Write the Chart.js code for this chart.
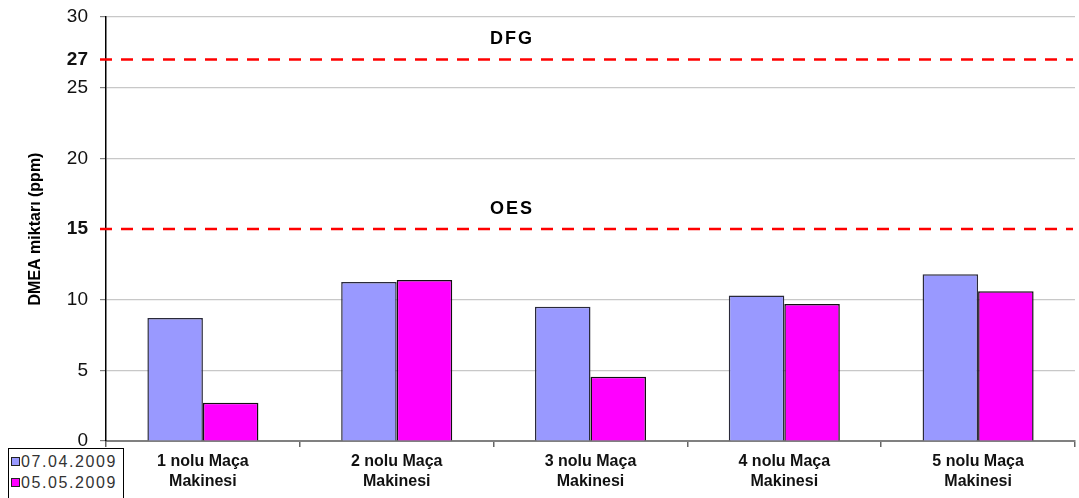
<!DOCTYPE html>
<html>
<head>
<meta charset="utf-8">
<script src="https://cdn.jsdelivr.net/npm/chart.js@4/dist/chart.umd.min.js"></script>
<style>
  html, body { margin: 0; padding: 0; background: #fff; }
  #wrap { position: relative; width: 1079px; height: 498px; overflow: hidden; }
  #legend {
    position: absolute; left: 8px; top: 448px; width: 116px; height: 60px;
    border: 1px solid #000; background: #fff; box-sizing: border-box;
    font-family: 'Liberation Sans', Arial, sans-serif; font-size: 16px; color: #333;
    letter-spacing: 1.6px;
  }
  #legend .row { position: absolute; left: 2px; height: 20px; line-height: 20px; white-space: nowrap; }
  #legend .sw { display: inline-block; width: 7px; height: 7px; border: 1px solid #222; margin-right: 1px; vertical-align: 1px; }
</style>
</head>
<body>
<div id="wrap">
  <canvas id="c" width="1079" height="498"></canvas>
  <div id="legend"></div>
</div>
<script>
// Machines measured
const categories = [
  ['1 nolu Maça', 'Makinesi'],
  ['2 nolu Maça', 'Makinesi'],
  ['3 nolu Maça', 'Makinesi'],
  ['4 nolu Maça', 'Makinesi'],
  ['5 nolu Maça', 'Makinesi']
];
// DMEA (ppm) per measurement date
const seriesNames = ['07.04.2009', '05.05.2009'];
const april = [8.7, 11.25, 9.5, 10.3, 11.8];
const may = [2.7, 11.4, 4.55, 9.7, 10.6];
const seriesColors = ['#9999ff', '#ff00ff'];
// Limit values and y-axis tick labels
const limitValues = [27, 15];
const limitNames = ['DFG', 'OES'];
const yTicks = [0, 5, 10, 15, 20, 25, 27, 30];

const FONT = "'Liberation Sans', Arial, sans-serif";
const isLimit = v => limitValues.includes(v);

// Dashed red limit lines with their names
const limitLines = {
  id: 'limitLines',
  afterDraw(chart) {
    const ctx = chart.ctx;
    const y = chart.scales.y;
    const area = chart.chartArea;
    ctx.save();
    limitValues.forEach((v, i) => {
      const py = y.getPixelForValue(v);
      ctx.beginPath();
      ctx.strokeStyle = '#ff0000';
      ctx.lineWidth = 2.5;
      ctx.setLineDash([12, 9]);
      ctx.moveTo(area.left - 6, py);
      ctx.lineTo(area.right - 2, py);
      ctx.stroke();
      ctx.setLineDash([]);
      ctx.fillStyle = '#000';
      ctx.font = 'bold 18px ' + FONT;
      if ('letterSpacing' in ctx) ctx.letterSpacing = '2px';
      ctx.textAlign = 'center';
      ctx.textBaseline = 'middle';
      ctx.fillText(limitNames[i], area.left + (area.right - area.left) * 0.419, py - 20);
    });
    ctx.restore();
  }
};

const chart = new Chart(document.getElementById('c'), {
  type: 'bar',
  data: {
    labels: categories,
    datasets: [
      { label: seriesNames[0], data: april, backgroundColor: seriesColors[0], borderColor: '#2a2a3a', borderWidth: 1.5 },
      { label: seriesNames[1], data: may, backgroundColor: seriesColors[1], borderColor: '#111', borderWidth: 1.5 }
    ]
  },
  options: {
    responsive: false,
    animation: false,
    layout: { padding: { top: 17, right: 4, left: 0, bottom: 0 } },
    datasets: { bar: { categoryPercentage: 0.573, barPercentage: 1.0 } },
    plugins: { legend: { display: false }, tooltip: { enabled: false } },
    scales: {
      x: {
        offset: true,
        afterFit(scale) {
          scale.height = 57;
          scale.paddingLeft = 0; scale.paddingRight = 0;
        },
        grid: { offset: true, drawOnChartArea: false, tickLength: 6, tickColor: '#666', lineWidth: 1.5 },
        border: { color: '#808080', width: 2 },
        ticks: {
          color: '#111', padding: 5, maxRotation: 0, autoSkip: false,
          font: { family: FONT, size: 16, weight: 'bold', lineHeight: 1.25 }
        }
      },
      y: {
        min: 0, max: 30,
        afterFit(scale) {
          scale.width = 106;
          scale.paddingTop = 0; scale.paddingBottom = 0;
        },
        afterBuildTicks(scale) { scale.ticks = yTicks.map(v => ({ value: v })); },
        grid: {
          color: c => (c.tick && (isLimit(c.tick.value) || c.tick.value === 0)) ? 'rgba(0,0,0,0)' : '#c8c8c8',
          tickColor: c => (c.tick && isLimit(c.tick.value)) ? 'rgba(0,0,0,0)' : '#808080',
          tickLength: 6, lineWidth: 1.2
        },
        border: { color: '#000', width: 1.5 },
        ticks: {
          color: '#111', padding: 12,
          font: c => ({ family: FONT, size: 19, weight: (c.tick && isLimit(c.tick.value)) ? 'bold' : 'normal' })
        },
        title: {
          display: true, text: 'DMEA miktarı (ppm)', color: '#000',
          font: { family: FONT, size: 16, weight: 'bold' },
          padding: { top: 26, bottom: 0 }
        }
      }
    }
  },
  plugins: [limitLines]
});

// Legend box below the y axis
const legend = document.getElementById('legend');
seriesNames.forEach((name, i) => {
  const row = document.createElement('div');
  row.className = 'row';
  row.style.top = (3 + i * 21) + 'px';
  const sw = document.createElement('span');
  sw.className = 'sw';
  sw.style.background = seriesColors[i];
  row.appendChild(sw);
  row.appendChild(document.createTextNode(name));
  legend.appendChild(row);
});
</script>
</body>
</html>
